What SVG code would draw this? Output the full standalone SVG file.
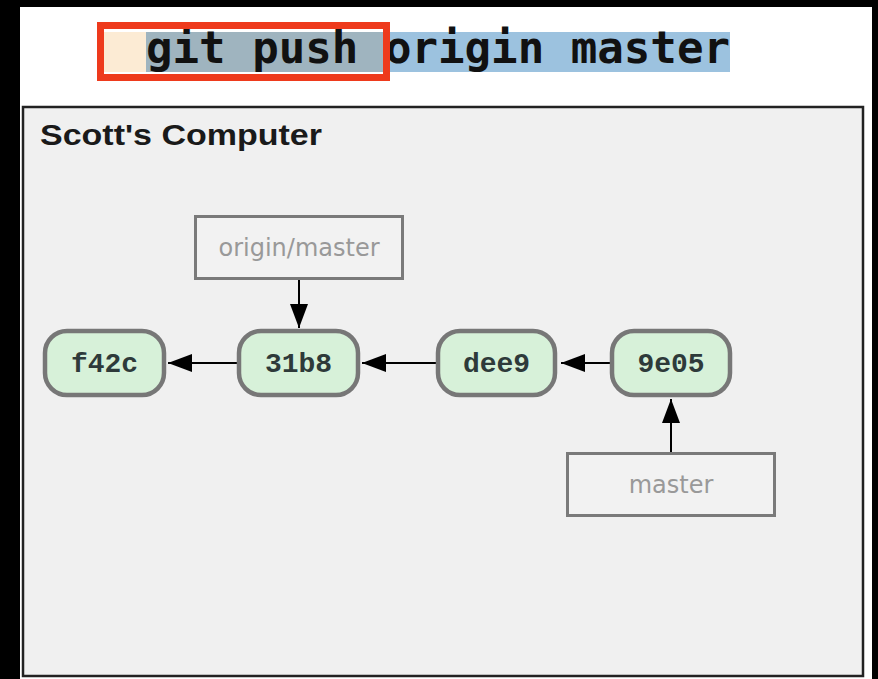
<svg xmlns="http://www.w3.org/2000/svg" width="878" height="679" viewBox="0 0 878 679">
  <style>
    .commit rect { fill: #d7f1d9; stroke: #777; stroke-width: 4.5; }
    .commit text { font-family: "Liberation Mono", "Courier New", monospace; font-weight: bold; font-size: 28px; fill: #2e3a3a; text-anchor: middle; }
    .ref rect { fill: #f2f2f2; stroke: #7a7a7a; stroke-width: 3; }
    .ref text { font-family: "DejaVu Sans", sans-serif; font-size: 24px; fill: #999; text-anchor: middle; }
    .edge { stroke: #000; stroke-width: 2; fill: none; marker-end: url(#arrow); }
  </style>
  <defs>
    <marker id="arrow" viewBox="0 0 24 18" refX="24" refY="9" markerWidth="24" markerHeight="18" markerUnits="userSpaceOnUse" orient="auto">
      <path d="M0,0 L24,9 L0,18 Z" fill="#000"/>
    </marker>
  </defs>

  <rect x="0" y="0" width="878" height="679" fill="#000"/>
  <rect x="20" y="7" width="852" height="672" fill="#fff"/>

  <g id="command">
    <rect x="104" y="32" width="42" height="40" fill="#fcebd4"/>
    <rect x="146" y="32" width="238" height="40" fill="#9fb4bf"/>
    <rect x="384" y="32" width="346" height="40" fill="#9cc2df"/>
    <text x="146" y="63" font-family="'DejaVu Sans Mono', 'Liberation Mono', monospace" font-weight="bold" font-size="44" fill="#111" textLength="584" lengthAdjust="spacingAndGlyphs">git push origin master</text>
    <rect x="100.5" y="25.5" width="286" height="52" fill="none" stroke="#ee3a1c" stroke-width="7"/>
  </g>

  <g id="scotts-computer">
    <rect x="23" y="107" width="840" height="569" fill="#f0f0f0" stroke="#222" stroke-width="2.5"/>
    <text x="40" y="145" font-family="'Liberation Sans', Arial, sans-serif" font-weight="bold" font-size="29" fill="#1a1a1a" textLength="282" lengthAdjust="spacingAndGlyphs">Scott's Computer</text>
  </g>

  <g id="connectors">
    <line class="edge" x1="237" y1="363" x2="168" y2="363"/>
    <line class="edge" x1="436" y1="363" x2="362" y2="363"/>
    <line class="edge" x1="610" y1="363" x2="561" y2="363"/>
    <line class="edge" x1="299" y1="280" x2="299" y2="328"/>
    <line class="edge" x1="671" y1="452" x2="671" y2="399"/>
  </g>

  <g id="origin-master" class="ref">
    <rect x="195.5" y="216.5" width="207" height="62"/>
    <text x="299" y="256">origin/master</text>
  </g>
  <g id="master" class="ref">
    <rect x="567.5" y="453.5" width="207" height="62"/>
    <text x="671" y="493">master</text>
  </g>

  <g id="commit-f42c" class="commit">
    <rect x="45" y="331" width="119" height="64" rx="22"/>
    <text x="104.5" y="372">f42c</text>
  </g>
  <g id="commit-31b8" class="commit">
    <rect x="239" y="331" width="119" height="64" rx="22"/>
    <text x="298.5" y="372">31b8</text>
  </g>
  <g id="commit-dee9" class="commit">
    <rect x="438" y="331" width="117" height="64" rx="22"/>
    <text x="496.5" y="372">dee9</text>
  </g>
  <g id="commit-9e05" class="commit">
    <rect x="612" y="331" width="118" height="64" rx="22"/>
    <text x="671" y="372">9e05</text>
  </g>
</svg>
